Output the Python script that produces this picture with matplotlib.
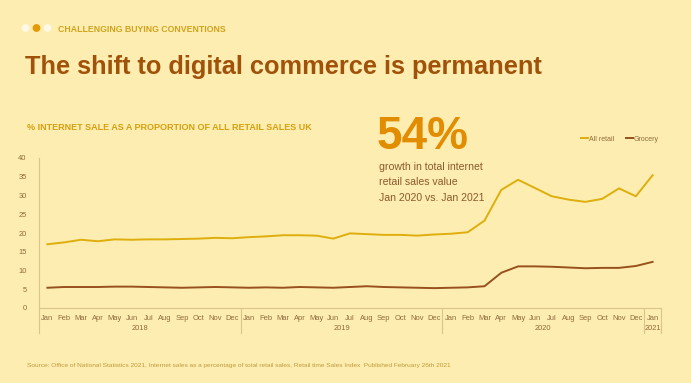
import matplotlib
matplotlib.use("Agg")
import matplotlib.pyplot as plt
import matplotlib.transforms as mtransforms
from matplotlib.patches import Circle

plt.rcParams['font.family'] = ['Liberation Sans', 'DejaVu Sans']

months = ["Jan", "Feb", "Mar", "Apr", "May", "Jun", "Jul", "Aug", "Sep", "Oct", "Nov", "Dec"]
month_labels = months * 3 + ["Jan"]
years = ["2018", "2019", "2020", "2021"]
year_counts = [12, 12, 12, 1]

all_retail = [17.0, 17.5, 18.2, 17.8, 18.3, 18.2, 18.3, 18.3, 18.4, 18.5, 18.7, 18.6,
              18.9, 19.1, 19.4, 19.4, 19.3, 18.5, 19.9, 19.7, 19.5, 19.5, 19.3, 19.6,
              19.8, 20.2, 23.3, 31.5, 34.2, 32.0, 29.8, 28.9, 28.3, 29.1, 31.9, 29.8,
              35.4]
grocery = [5.4, 5.6, 5.6, 5.6, 5.7, 5.7, 5.6, 5.5, 5.4, 5.5, 5.6, 5.5,
           5.4, 5.5, 5.4, 5.6, 5.5, 5.4, 5.6, 5.8, 5.6, 5.5, 5.4, 5.3,
           5.4, 5.5, 5.8, 9.4, 11.1, 11.1, 11.0, 10.8, 10.6, 10.7, 10.7, 11.2,
           12.3]

BG = "#FEEDB0"
GOLD = "#DDAE0C"
BROWN = "#98501E"
AXIS = "#D9C48C"
TICK = "#8E6A3C"

fig = plt.figure(figsize=(6.91, 3.83), dpi=100, facecolor=BG)
W, H = 691, 383

# header dots
for i, c in enumerate(["#FFF9E6", "#E39A06", "#FFF9E6"]):
    fig.add_artist(Circle(((25.5 + 11 * i) / 100, (H - 28) / 100), 0.032,
                          transform=fig.dpi_scale_trans, color=c, zorder=5))

fig.text(58 / W, 1 - 29 / H, "CHALLENGING BUYING CONVENTIONS", fontsize=6.3,
         fontweight="bold", color="#CFA31E", va="center", ha="left")
fig.text(25 / W, 1 - 67 / H, "The shift to digital commerce is permanent", fontsize=18.3,
         fontweight="bold", color="#A0520A", va="center", ha="left")
fig.text(27 / W, 1 - 128 / H, "% INTERNET SALE AS A PROPORTION OF ALL RETAIL SALES UK",
         fontsize=6.5, fontweight="bold", color="#D6A00E", va="center", ha="left")
fig.text(377 / W, 1 - 137 / H, "54%", fontsize=33, fontweight="bold",
         color="#E28C00", va="center", ha="left")
for txt, yy in [("growth in total internet", 167), ("retail sales value", 182),
                ("Jan 2020 vs. Jan 2021", 198)]:
    fig.text(379 / W, 1 - yy / H, txt, fontsize=7.6, color="#8C5A2E",
             va="center", ha="left")
fig.text(27 / W, 1 - 366 / H,
         "Source: Office of National Statistics 2021, Internet sales as a percentage of total retail sales, Retail time Sales Index  Published February 26th 2021",
         fontsize=4.65, color="#C09A3A", va="center", ha="left")

ax = fig.add_axes([39 / W, 75 / H, (661 - 39) / W, 150 / H])
ax.set_facecolor(BG)
x = list(range(len(month_labels)))
ax.plot(x, all_retail, color=GOLD, lw=1.4, label="All retail")
ax.plot(x, grocery, color=BROWN, lw=1.4, label="Grocery")
ax.set_xlim(-0.5, len(month_labels) - 0.5)
ax.set_ylim(0, 40)
ax.set_yticks(range(0, 41, 5))
ax.tick_params(axis="y", length=0, labelsize=5.4, labelcolor=TICK, pad=9)
ax.set_xticks(x)
ax.set_xticklabels(month_labels)
ax.tick_params(axis="x", length=0, labelsize=5.4, labelcolor=TICK, pad=5)
for s in ["top", "right"]:
    ax.spines[s].set_visible(False)
for s in ["left", "bottom"]:
    ax.spines[s].set_color(AXIS)
    ax.spines[s].set_linewidth(0.8)

trans = mtransforms.blended_transform_factory(ax.transData, ax.transAxes)
start = 0
bounds = [-0.5]
for yname, cnt in zip(years, year_counts):
    center = start + (cnt - 1) / 2
    ax.text(center, -0.14, yname, transform=trans, fontsize=5.4, color=TICK,
            ha="center", va="center")
    start += cnt
    bounds.append(start - 0.5)
for b in bounds:
    ax.plot([b, b], [0, -0.167], transform=trans, color=AXIS, lw=0.8, clip_on=False)

leg = ax.legend(loc="upper right", bbox_to_anchor=(1.007, 1.19), ncol=2, frameon=False,
                fontsize=5, handlelength=1.0, handletextpad=0.2, columnspacing=1.6,
                labelcolor=TICK)

fig.savefig("out.png", dpi=100, facecolor=BG)
